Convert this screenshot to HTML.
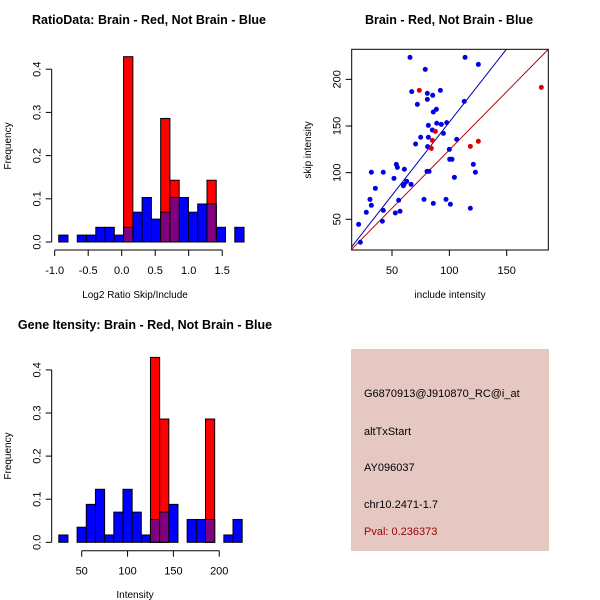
<!DOCTYPE html>
<html><head><meta charset="utf-8"><style>
body{margin:0;background:#fff}
svg{display:block;font-family:"Liberation Sans",sans-serif}
</style></head><body>
<svg id="c" width="600" height="600" viewBox="0 0 600 600" xmlns="http://www.w3.org/2000/svg">
<rect width="600" height="600" fill="#fff"/>
<g id="p1"></g>
<g id="p2"></g>
<g id="p3"></g>
<g id="p4">
<rect x="351" y="349" width="198" height="202" fill="#e6c8c3"/>
<text x="364" y="397" font-size="11" fill="#000">G6870913@J910870_RC@i_at</text>
<text x="364" y="435" font-size="11" fill="#000">altTxStart</text>
<text x="364" y="471" font-size="11" fill="#000">AY096037</text>
<text x="364" y="508" font-size="11" fill="#000">chr10.2471-1.7</text>
<text x="364" y="535" font-size="11" fill="#a00000">Pval: 0.236373</text>
</g>
</svg>
<script>
// Panel 1 data
const ratioBinStart = -0.94;
const ratioBinWidth = 0.1383;
const ratioBlue = [0.016,0,0.016,0.016,0.034,0.034,0.016,0.034,0.069,0.103,0.053,0.069,0.103,0.103,0.069,0.088,0.088,0.034,0,0.034];
const ratioRed  = [0,0,0,0,0,0,0,0.429,0,0,0,0.286,0.143,0,0,0,0.143,0,0,0];
const ratioXTicks = [-1.0,-0.5,0.0,0.5,1.0,1.5];
const ratioXLabels = ["-1.0","-0.5","0.0","0.5","1.0","1.5"];
const freqTicks = [0,0.1,0.2,0.3,0.4];
const freqLabels = ["0.0","0.1","0.2","0.3","0.4"];
// Panel 3 data
const intBinStart = 25;
const intBinWidth = 10;
const intBlue = [0.017,0,0.035,0.088,0.123,0.017,0.07,0.123,0.07,0.017,0.053,0.07,0.088,0,0.053,0.053,0.053,0,0.017,0.053];
const intRed  = [0,0,0,0,0,0,0,0,0,0,0.429,0.286,0,0,0,0,0.286,0,0,0];
const intXTicks = [50,100,150,200];
const intXLabels = ["50","100","150","200"];
// Panel 2 data
const blueInclude = [65.7,113.7,125.3,79,67.2,80.8,85.5,92.2,80.8,72.1,113,88.7,86,81.7,89,93,97.7,94.8,85.2,75,81.7,70.6,81.1,106.4,100,100.3,102.3,53.8,54.7,60.8,32,42.4,120.9,122.7,51.7,104.4,80.5,82.3,62.8,60.5,59.9,66.6,35.5,30.8,32,77.9,97.1,86,100.9,118.3,55.8,42.4,57,52.9,27.6,41.6,20.9,22.4];
const blueSkip = [223.6,223.6,216,210.7,186.8,185,182.9,188.2,178.6,173.2,176.4,167.9,165,150.7,152.9,151.8,153.6,142.1,145.7,137.9,137.9,130.7,127.9,135.7,125,114.3,114.3,108.9,105.7,103.6,100.4,100.4,108.9,100.4,93.9,95,101.4,101.4,90.7,87.5,86,87.5,83.2,71.4,65,71.4,71.4,67.1,66.1,61.8,70.4,59.6,58.6,56.8,57.5,47.9,44.6,25.4];
const redInclude = [73.8,87.8,85.2,84.3,118.3,125.3,180.2];
const redSkip = [188.2,144.3,134.6,126,128.2,133.6,191.4];
const blueFit = [-2.8,1.57];
const redFit = [-0.65,1.25];
const scatXTicks = [50,100,150];
const scatYTicks = [50,100,150,200];

const NS="http://www.w3.org/2000/svg";
function mk(parent,tag,attrs){const e=document.createElementNS(NS,tag);for(const k in attrs)e.setAttribute(k,attrs[k]);parent.appendChild(e);return e;}
function txt(parent,x,y,s,size,extra){const t=mk(parent,'text',Object.assign({x:x,y:y,'font-size':size,'text-anchor':'middle',fill:'#000'},extra||{}));t.textContent=s;return t;}

function histogram(g,o){
  const X=v=>o.x0+(v-o.v0)*o.sx, Y=v=>o.y0-v*o.sy;
  for(let i=0;i<o.blue.length;i++){
    const a=o.start+i*o.width, b=a+o.width;
    if(o.blue[i]>0){const r=mk(g,'rect',{x:X(a),y:Y(o.blue[i]),width:X(b)-X(a),height:Y(0)-Y(o.blue[i]),fill:'#0000ff',stroke:'#000','stroke-width':1});
      
      }
  }
  for(let i=0;i<o.red.length;i++){
    const a=o.start+i*o.width, b=a+o.width;
    if(o.red[i]>0){const r=mk(g,'rect',{x:X(a),y:Y(o.red[i]),width:X(b)-X(a),height:Y(0)-Y(o.red[i]),fill:'#ff0000',stroke:'#000','stroke-width':1});
      
      
      const ov=Math.min(o.red[i],o.blue[i]);
      if(ov>0){const p=mk(g,'rect',{x:X(a),y:Y(ov),width:X(b)-X(a),height:Y(0)-Y(ov),fill:'#800080',stroke:'#000','stroke-width':1});
        
        }
    }
  }
  const xa=mk(g,'g',{});
  
  
  mk(xa,'line',{x1:X(o.xt[0]),x2:X(o.xt[o.xt.length-1]),y1:o.ax,y2:o.ax,stroke:'#000'});
  o.xt.forEach((v,i)=>{mk(xa,'line',{x1:X(v),x2:X(v),y1:o.ax,y2:o.ax+6,stroke:'#000'});
    const t=txt(xa,X(v),o.ax+24,o.xl[i],11);
    
    });
  const ya=mk(g,'g',{});
  
  
  mk(ya,'line',{x1:o.ay,x2:o.ay,y1:Y(0),y2:Y(0.4),stroke:'#000'});
  freqTicks.forEach((v,i)=>{mk(ya,'line',{x1:o.ay-6,x2:o.ay,y1:Y(v),y2:Y(v),stroke:'#000'});
    const t=txt(ya,0,0,freqLabels[i],11,{transform:`translate(${o.ay-11},${Y(v)}) rotate(-90)`});
    
    });
  const tt=txt(g,o.tx,o.ty,o.title,12.5,{'font-weight':'bold'});
  
  
  const xl=txt(g,o.xlx,o.xly,o.xlabel,10);
  
  
  const yl=txt(g,0,0,'Frequency',10,{transform:`translate(11,${o.yly}) rotate(-90)`});
  
  
}

histogram(document.getElementById('p1'),{x0:54.7,v0:-1,sx:67,y0:242,sy:432,start:ratioBinStart,width:ratioBinWidth,blue:ratioBlue,red:ratioRed,xt:ratioXTicks,xl:ratioXLabels,ax:250,ay:51.7,title:'RatioData: Brain - Red, Not Brain - Blue',tx:149,ty:24,xlabel:'Log2 Ratio Skip/Include',xlx:135,xly:298,yly:146});
histogram(document.getElementById('p3'),{x0:81.7,v0:50,sx:0.917,y0:542.3,sy:431,start:intBinStart,width:intBinWidth,blue:intBlue,red:intRed,xt:intXTicks,xl:intXLabels,ax:550.7,ay:51.7,title:'Gene Itensity: Brain - Red, Not Brain - Blue',tx:145,ty:329,xlabel:'Intensity',xlx:135,xly:598,yly:456});

// Scatter
(function(){
  const g=document.getElementById('p2');
  const X=v=>392+(v-50)*1.147, Y=v=>219.3-(v-50)*0.933;
  const L=351.7,R=548.3,T=49.3,B=250;
  const cp=mk(g,'clipPath',{id:'sc'});mk(cp,'rect',{x:L,y:T,width:R-L,height:B-T});
  const lines=mk(g,'g',{'clip-path':'url(#sc)'});
  [[blueFit,'#0000aa','blue-fit-line'],[redFit,'#bb0000','red-fit-line']].forEach(([f,c,n])=>{
    const x1=0,x2=250;
    const l=mk(lines,'line',{x1:X(x1),y1:Y(f[0]+f[1]*x1),x2:X(x2),y2:Y(f[0]+f[1]*x2),stroke:c,'stroke-width':1});
    
    
  });
  blueInclude.forEach((v,i)=>{const c=mk(g,'circle',{cx:X(v),cy:Y(blueSkip[i]),r:2.5,fill:'#0000e0'});
    
    });
  redInclude.forEach((v,i)=>{const c=mk(g,'circle',{cx:X(v),cy:Y(redSkip[i]),r:2.5,fill:'#e00000'});
    
    });
  const box=mk(g,'rect',{x:L,y:T,width:R-L,height:B-T,fill:'none',stroke:'#000'});
  
  
  scatXTicks.forEach(v=>{mk(g,'line',{x1:X(v),x2:X(v),y1:B,y2:B+6,stroke:'#000'});
    const t=txt(g,X(v),B+24,String(v),11);
    
    });
  scatYTicks.forEach(v=>{mk(g,'line',{x1:L-6,x2:L,y1:Y(v),y2:Y(v),stroke:'#000'});
    const t=txt(g,0,0,String(v),11,{transform:`translate(${L-11},${Y(v)}) rotate(-90)`});
    
    });
  const tt=txt(g,449,24,'Brain - Red, Not Brain - Blue',12.5,{'font-weight':'bold'});
  
  
  const xl=txt(g,450,298,'include intensity',10);
  
  
  const yl=txt(g,0,0,'skip intensity',10,{transform:'translate(311,150) rotate(-90)'});
  
  
})();
</script>
</body></html>
